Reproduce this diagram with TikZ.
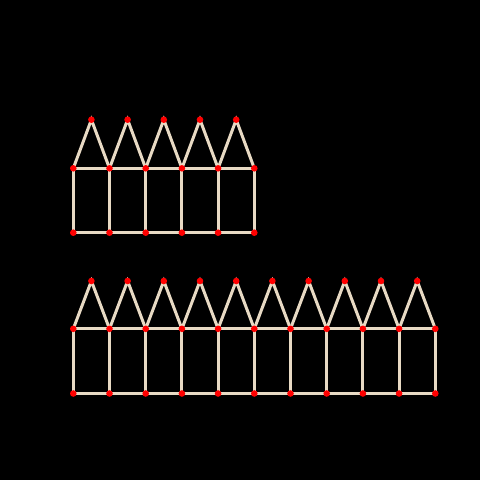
\documentclass[tikz,border=0pt]{standalone}
\begin{document}
\begin{tikzpicture}[x=1pt,y=-1pt,
  match/.style={draw={rgb,255:red,232;green,218;blue,196},line width=3pt,line cap=butt},
  head/.style={fill=red,draw=none}]
\fill[black] (0,0) rectangle (480,480);
\useasboundingbox (0,0) rectangle (480,480);
% top row: 5 houses
\foreach \i in {0,...,5}{
  \coordinate (tb\i) at ({73.3+36.2*\i},168.3);
  \coordinate (tf\i) at ({73.3+36.2*\i},232.7);
}
\foreach \i in {0,...,4}{
  \coordinate (ta\i) at ({91.4+36.2*\i},119.7);
}
\foreach \i [evaluate=\i as \j using int(\i+1)] in {0,...,4}{
  \draw[match] (tb\i) -- (ta\i) -- (tb\j);
  \draw[match] (tb\i) -- (tb\j);
  \draw[match] (tf\i) -- (tf\j);
}
\foreach \i in {0,...,5}{ \draw[match] (tb\i) -- (tf\i); }
\foreach \i in {0,...,5}{
  \fill[head] (tb\i) circle (3.3);
  \fill[head] (tf\i) circle (3.3);
}
\foreach \i in {0,...,4}{ \fill[head] (ta\i) circle (3.3); }
% bottom row: 10 houses
\foreach \i in {0,...,10}{
  \coordinate (bb\i) at ({73.3+36.2*\i},328.8);
  \coordinate (bf\i) at ({73.3+36.2*\i},393.5);
}
\foreach \i in {0,...,9}{
  \coordinate (ba\i) at ({91.4+36.2*\i},281);
}
\foreach \i [evaluate=\i as \j using int(\i+1)] in {0,...,9}{
  \draw[match] (bb\i) -- (ba\i) -- (bb\j);
  \draw[match] (bb\i) -- (bb\j);
  \draw[match] (bf\i) -- (bf\j);
}
\foreach \i in {0,...,10}{ \draw[match] (bb\i) -- (bf\i); }
\foreach \i in {0,...,10}{
  \fill[head] (bb\i) circle (3.3);
  \fill[head] (bf\i) circle (3.3);
}
\foreach \i in {0,...,9}{ \fill[head] (ba\i) circle (3.3); }
\end{tikzpicture}
\end{document}
